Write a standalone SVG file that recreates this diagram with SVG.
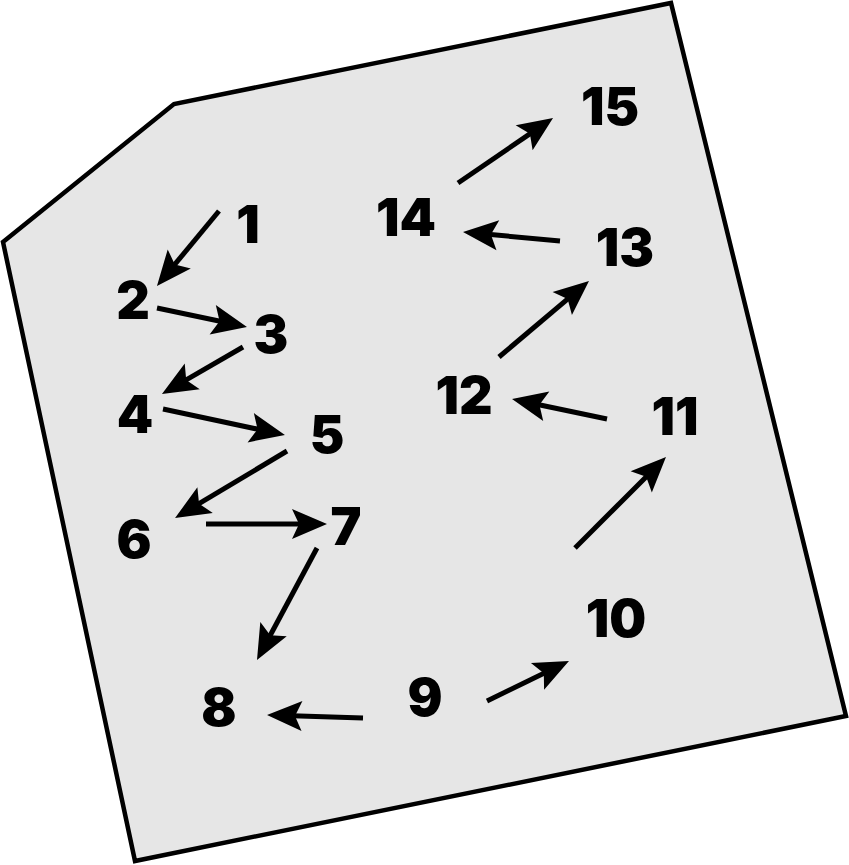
<svg xmlns="http://www.w3.org/2000/svg" width="849" height="865" viewBox="0 0 849 865">
<style>
.bg{fill:#e6e6e6;stroke:#000;stroke-width:4.5;stroke-linejoin:miter}
.lbl{font-family:Inter,"Liberation Sans",sans-serif;font-weight:900;font-size:52px;fill:#000;text-anchor:middle}
.c{stroke:#000;stroke-width:5;fill:none;marker-end:url(#ah)}
</style>
<defs>
<marker id="ah" markerUnits="userSpaceOnUse" orient="auto" refX="10" refY="0" markerWidth="40" markerHeight="40" viewBox="0 -20 40 40" overflow="visible">
<path d="M0,-15 L35,0 L0,15 L7,0 Z" fill="#000"/>
</marker>
</defs>
<polygon class="bg" points="3,242 174,104 671,3 846,716 135,861"/>
<g id="connectors">
<line class="c" x1="219" y1="211" x2="172.9" y2="266.7"/>
<line class="c" x1="157" y1="308" x2="222.5" y2="321.8"/>
<line class="c" x1="243" y1="347" x2="183.6" y2="381.4"/>
<line class="c" x1="163" y1="409" x2="260.5" y2="429.8"/>
<line class="c" x1="287" y1="451" x2="196.5" y2="505.2"/>
<line class="c" x1="206" y1="524" x2="302" y2="524"/>
<line class="c" x1="317" y1="548" x2="268.8" y2="638"/>
<line class="c" x1="363" y1="718" x2="292" y2="715.8"/>
<line class="c" x1="487" y1="701" x2="546.5" y2="672"/>
<line class="c" x1="575" y1="548" x2="648.3" y2="474.7"/>
<line class="c" x1="607" y1="419" x2="536.5" y2="404.2"/>
<line class="c" x1="499" y1="357" x2="569.9" y2="297.1"/>
<line class="c" x1="560" y1="241" x2="487.9" y2="234.3"/>
<line class="c" x1="458" y1="183" x2="532.4" y2="132.1"/>
</g>
<g id="n1"><text class="lbl" x="248" y="243">1</text></g>
<g id="n2"><text class="lbl" x="133" y="319">2</text></g>
<g id="n3"><text class="lbl" x="271" y="353">3</text></g>
<g id="n4"><text class="lbl" x="135" y="433">4</text></g>
<g id="n5"><text class="lbl" x="327" y="453">5</text></g>
<g id="n6"><text class="lbl" x="134" y="558">6</text></g>
<g id="n7"><text class="lbl" x="346" y="545">7</text></g>
<g id="n8"><text class="lbl" x="219" y="726">8</text></g>
<g id="n9"><text class="lbl" x="425" y="716">9</text></g>
<g id="n10"><text class="lbl" x="616" y="637">10</text></g>
<g id="n11"><text class="lbl" x="675" y="435">11</text></g>
<g id="n12"><text class="lbl" x="464" y="414">12</text></g>
<g id="n13"><text class="lbl" x="625" y="266">13</text></g>
<g id="n14"><text class="lbl" x="406" y="236">14</text></g>
<g id="n15"><text class="lbl" x="610" y="125">15</text></g>
</svg>
